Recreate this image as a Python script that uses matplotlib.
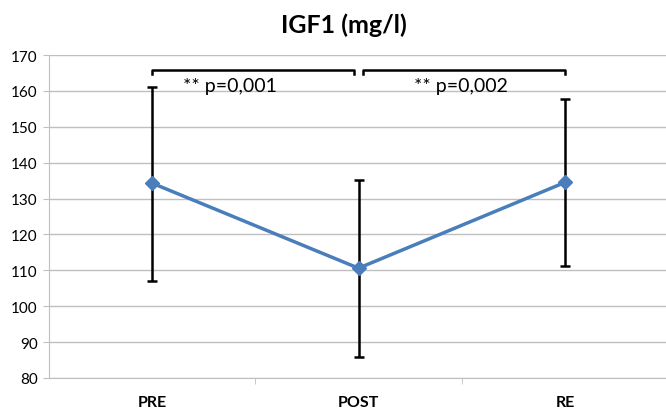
import matplotlib.pyplot as plt

# datos
grupos = ['PRE', 'POST', 'RE']
medias = [134.3, 110.6, 134.5]
err_sup = [161.0, 135.3, 157.7]
err_inf = [106.9, 85.9, 111.3]
textos_p = ['** p=0,001', '** p=0,002']

plt.rcParams['font.family'] = ['Lato', 'DejaVu Sans']

fig = plt.figure(figsize=(6.66, 4.14), dpi=100)
ax = fig.add_axes([48.75 / 666, 35 / 414, 619.5 / 666, 323 / 414])

x = list(range(len(grupos)))
yerr = [[m - b for m, b in zip(medias, err_inf)],
        [t - m for m, t in zip(medias, err_sup)]]

ax.errorbar(x, medias, yerr=yerr, fmt='none', ecolor='black', elinewidth=1.8,
            capsize=3.5, capthick=1.8, zorder=2)
ax.plot(x, medias, color='#4a7ebb', linewidth=2.5, marker='D', markersize=7,
        zorder=3)

ax.set_xlim(-0.5, 2.5)
ax.set_ylim(80, 170)
ax.set_yticks(range(80, 171, 10))
ax.yaxis.grid(True, color='#bfbfbf', linewidth=1)
ax.set_axisbelow(True)

ax.set_xticks(x)
ax.set_xticklabels(grupos, fontweight='bold', fontsize=11.5)
ax.set_xticks([0.5, 1.5], minor=True)
ax.tick_params(axis='x', which='major', length=0, pad=12)
ax.tick_params(axis='x', which='minor', length=4, color='#bfbfbf')
ax.tick_params(axis='y', length=4, color='#bfbfbf', labelsize=11, pad=4)

for lado in ['top', 'right']:
    ax.spines[lado].set_visible(False)
ax.spines['left'].set_color('#bfbfbf')
ax.spines['bottom'].set_color('#bfbfbf')

# corchetes de significancia
corchetes = [(0, 0.98), (1.02, 2)]
pos_texto = [0.378, 1.496]
for (a, b), xt, txt in zip(corchetes, pos_texto, textos_p):
    ax.plot([a, a, b, b], [164.7, 165.9, 165.9, 164.7], color='black',
            linewidth=1.8, clip_on=False)
    ax.text(xt, 161.6, txt, ha='center', va='center', fontsize=14)

fig.text(0.5165, 0.94, 'IGF1 (mg/l)', ha='center', va='center',
         fontsize=18, fontweight='bold')

fig.savefig('out.png', dpi=100)
